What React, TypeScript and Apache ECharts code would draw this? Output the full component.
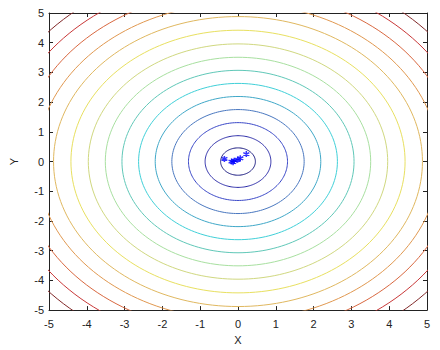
import React, { useEffect, useRef } from "react";
import * as echarts from "echarts";

// Contour levels (radius of each iso-line)
const levels = [0.46, 0.87, 1.31, 1.75, 2.19, 2.63, 3.07, 3.51, 3.96, 4.42, 4.88, 5.32, 5.77, 6.21, 6.65];
// Jet-like colours as they appear in the picture, one per level (inner -> outer)
const levelColors = [
  "#1a1a80", "#2a2aa8", "#3a48c8", "#4a78c0", "#40a8c8", "#40d0d8", "#60c8b8", "#a8e0a0",
  "#d0d880", "#e8e060", "#e0b860", "#e09850", "#d86840", "#c83838", "#802828",
];
// Sample points (blue asterisks near the origin)
const pointsX = [-0.36, -0.17, -0.1, -0.01, 0.06, 0.22, -0.13];
const pointsY = [0.09, 0.0, 0.03, 0.06, 0.11, 0.25, -0.02];

const tickValues = [-5, -4, -3, -2, -1, 0, 1, 2, 3, 4, 5];

const ASTERISK = "path://M0,-5L0,5M-4.33,-2.5L4.33,2.5M-4.33,2.5L4.33,-2.5";

export default function App() {
  const ref = useRef<HTMLDivElement>(null);
  useEffect(() => {
    if (!ref.current) return;
    const chart = echarts.init(ref.current, null, { renderer: "svg" });
    const steps = 180;
    const contourSeries = levels.map((r, i) => {
      const data: number[][] = [];
      for (let s = 0; s <= steps; s++) {
        const a = (s / steps) * Math.PI * 2;
        data.push([r * Math.cos(a), r * Math.sin(a)]);
      }
      return {
        type: "line",
        xAxisIndex: 0,
        yAxisIndex: 0,
        data,
        showSymbol: false,
        symbol: "none",
        clip: true,
        silent: true,
        lineStyle: { color: levelColors[i], width: 1 },
      };
    });
    const font = "Liberation Sans, Arial, sans-serif";
    const axisCommon = {
      type: "value",
      min: tickValues[0],
      max: tickValues[tickValues.length - 1],
      interval: 1,
      splitLine: { show: false },
      axisLine: { show: true, onZero: false, lineStyle: { color: "#222", width: 1 } },
      axisTick: { show: true, inside: true, length: 4, lineStyle: { color: "#222" } },
      axisLabel: { color: "#222", fontSize: 11, fontFamily: font },
      nameTextStyle: { color: "#222", fontSize: 11, fontFamily: font },
    };
    chart.setOption({
      animation: false,
      grid: { left: 42, right: 13, top: 13, bottom: 33, containLabel: false },
      xAxis: [
        { ...axisCommon, position: "bottom", name: "X", nameLocation: "middle", nameGap: 22, axisLabel: { ...axisCommon.axisLabel, margin: 8 } },
        { ...axisCommon, position: "top", axisLabel: { show: false } },
      ],
      yAxis: [
        { ...axisCommon, position: "left", name: "Y", nameLocation: "middle", nameGap: 30, nameRotate: 90, axisLabel: { ...axisCommon.axisLabel, margin: 5 } },
        { ...axisCommon, position: "right", axisLabel: { show: false } },
      ],
      series: [
        ...contourSeries,
        {
          type: "scatter",
          xAxisIndex: 0,
          yAxisIndex: 0,
          data: pointsX.map((x, i) => [x, pointsY[i]]),
          symbol: ASTERISK,
          symbolSize: 6,
          itemStyle: { color: "#0000FF", borderColor: "#0000FF", borderWidth: 1.5 },
        },
      ],
    });
    return () => chart.dispose();
  }, []);
  return (
    <div
      ref={ref}
      style={{ position: "fixed", left: 0, top: 0, width: 440, height: 350, background: "#fff" }}
    />
  );
}
